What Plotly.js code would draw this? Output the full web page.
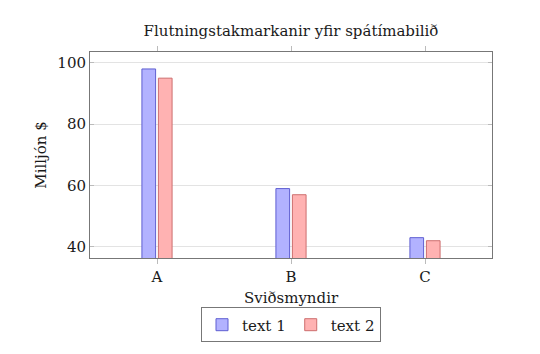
<!DOCTYPE html>
<html>
<head>
<meta charset="utf-8">
<script src="https://cdn.plot.ly/plotly-3.0.1.min.js"></script>
<style>html,body{margin:0;padding:0;background:#fff;}#chart{width:540px;height:354px;}</style>
</head>
<body>
<div id="chart"></div>
<script>
const categories = ['A', 'B', 'C'];
const series1Name = 'text 1';
const series2Name = 'text 2';
const series1 = [98, 59, 43];
const series2 = [95, 57, 42];
const yTicks = [40, 60, 80, 100];

const FONT = 'DejaVu Serif';

const traces = [
  {
    type: 'bar', name: series1Name, x: categories, y: series1,
    marker: {color: 'rgb(178,178,255)', line: {color: 'rgb(95,95,210)', width: 1}}
  },
  {
    type: 'bar', name: series2Name, x: categories, y: series2,
    marker: {color: 'rgb(255,178,178)', line: {color: 'rgb(205,110,110)', width: 1}}
  }
];

const layout = {
  width: 540, height: 354,
  margin: {l: 90, r: 48, t: 52, b: 93},
  paper_bgcolor: '#fff', plot_bgcolor: '#fff',
  font: {family: FONT, size: 15, color: '#1a1a1a'},
  title: {text: 'Flutningstakmarkanir yfir spátímabilið', font: {family: FONT, size: 15, color: '#1a1a1a'},
          x: 0.5, xref: 'paper', xanchor: 'center', y: 1, yref: 'paper', yanchor: 'bottom', pad: {b: 16}},
  barmode: 'group', bargap: 0.754, bargroupgap: 0.17,
  showlegend: true,
  legend: {orientation: 'h', x: 0.5, xanchor: 'center', xref: 'paper', y: -0.24, yanchor: 'top',
           bordercolor: '#777', borderwidth: 1, font: {family: FONT, size: 15, color: '#1a1a1a'},
           itemwidth: 30, tracegroupgap: 0},
  xaxis: {
    type: 'category', range: [-0.5, 2.5],
    title: {text: 'Sviðsmyndir', font: {family: FONT, size: 15, color: '#1a1a1a'}, standoff: 7},
    showline: true, linecolor: '#777', linewidth: 1, mirror: 'ticks',
    ticks: 'outside', ticklen: 5, tickcolor: '#bbb', showgrid: false, zeroline: false,
    tickfont: {family: FONT, size: 15, color: '#1a1a1a'}
  },
  yaxis: {
    range: [36.37, 103.53], tickvals: yTicks, ticktext: yTicks.map(String),
    title: {text: 'Milljón $', font: {family: FONT, size: 15, color: '#1a1a1a'}, standoff: 7},
    showline: true, linecolor: '#777', linewidth: 1, mirror: 'ticks',
    ticks: 'inside', ticklen: 4, tickcolor: '#bbb', showgrid: true, gridcolor: '#e3e3e3', zeroline: false,
    tickfont: {family: FONT, size: 15, color: '#1a1a1a'}
  }
};

Plotly.newPlot('chart', traces, layout, {displayModeBar: false, staticPlot: true});
</script>
</body>
</html>
